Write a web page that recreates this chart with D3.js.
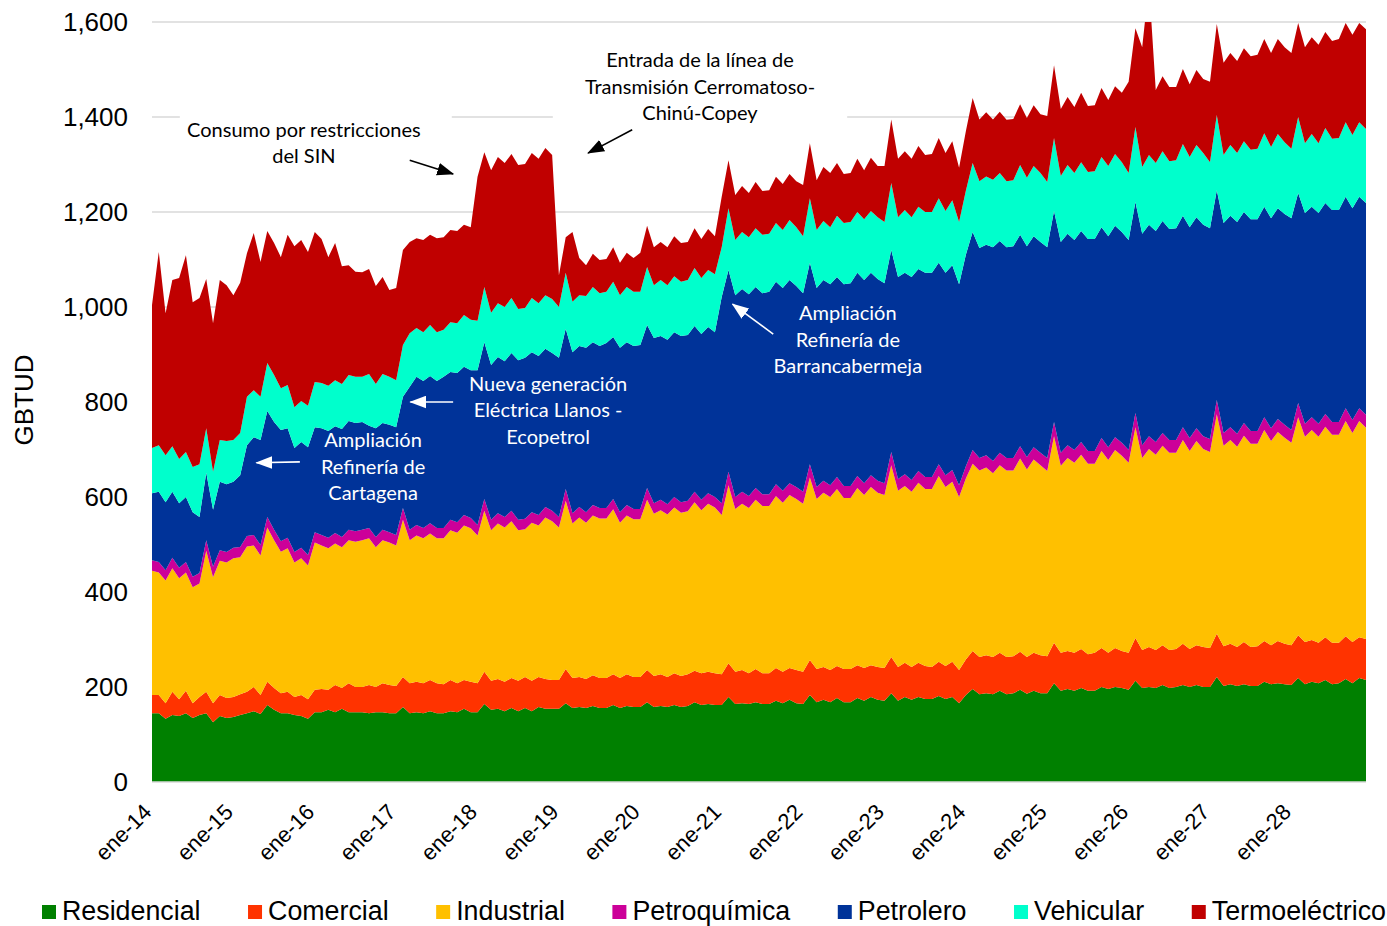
<!DOCTYPE html>
<html lang="es">
<head>
<meta charset="UTF-8">
<title>Demanda de gas natural por sector</title>
<script src="https://d3js.org/d3.v7.min.js"></script>
<style>
  body { margin: 0; background: #fff; }
  svg { display: block; font-family: "Liberation Sans", Arial, sans-serif; }
  .axis-y text { font-size: 26px; fill: #000; }
  .axis-x text { font-size: 22px; fill: #000; }
  .legend text { font-size: 26.8px; fill: #000; }
  .note { font-family: Lato, "Open Sans", sans-serif; font-size: 20px; }
</style>
</head>
<body>
<svg width="1387" height="926"></svg>
<script>
// x axis labels (one every 12 months, ene-14 ... ene-28)
const tickLabels = ["ene-14","ene-15","ene-16","ene-17","ene-18","ene-19","ene-20","ene-21",
  "ene-22","ene-23","ene-24","ene-25","ene-26","ene-27","ene-28"];
const yTicks = [0, 200, 400, 600, 800, 1000, 1200, 1400, 1600];

const keys = ["Residencial","Comercial","Industrial","Petroquímica","Petrolero","Vehicular","Termoeléctrico"];
const colors = ["#008000","#ff3300","#ffc000","#cc0099","#003399","#00ffcc","#c00000"];

// monthly values, GBTUD, ene-14 .. dic-28 (12 per row)
const residencial = [
  145,145,133,141,139,145,135,141,145,126,139,135,
  137,141,145,149,143,162,152,145,145,141,139,133,
  147,147,152,147,154,147,147,147,145,147,147,145,
  145,158,145,147,145,149,145,145,149,147,154,147,
  147,164,152,154,149,156,149,156,149,158,154,154,
  154,166,156,158,156,160,156,156,162,156,160,158,
  158,168,158,160,158,162,158,160,168,162,164,162,
  162,179,164,166,164,168,164,164,171,166,173,166,
  164,183,168,173,168,177,168,168,177,171,179,173,
  171,187,171,179,173,179,175,175,181,175,179,166,
  183,196,185,187,185,192,185,187,194,186,192,187,
  187,208,192,196,192,198,192,192,200,196,200,198,
  194,213,198,200,198,204,198,200,204,200,204,200,
  200,221,202,206,202,206,202,202,211,206,208,206,
  204,219,206,211,208,215,206,208,217,208,219,215
];
const comercial = [
  38,38,33,49,35,47,31,38,45,40,44,42,
  42,44,45,51,40,49,46,42,45,38,44,41,
  47,49,42,57,44,61,53,53,59,53,61,59,
  57,63,63,64,63,66,63,61,66,61,61,64,
  61,68,61,63,62,63,64,65,64,63,63,61,
  61,72,63,63,61,65,63,63,65,63,67,63,
  63,68,65,67,63,67,65,67,66,67,68,67,
  65,71,68,70,65,70,65,65,69,66,67,70,
  68,74,70,69,68,67,70,70,69,69,67,69,
  69,76,71,72,69,72,69,67,72,69,74,70,
  75,80,78,80,78,80,78,78,80,77,80,80,
  78,85,80,80,80,82,77,80,82,76,82,78,
  78,90,80,84,80,84,80,80,87,80,84,84,
  82,91,84,85,82,89,82,84,86,82,89,85,
  84,90,89,88,85,90,87,85,90,87,86,86
];
const industrial = [
  262,258,258,260,255,249,244,239,297,265,283,285,
  292,288,306,298,294,325,311,298,302,283,288,282,
  310,302,298,298,296,301,306,309,309,294,301,300,
  296,331,301,308,305,308,305,307,315,317,325,323,
  311,339,317,327,325,330,317,311,333,319,340,334,
  321,354,325,336,329,336,336,336,347,327,334,332,
  332,358,342,345,342,349,344,343,355,343,354,349,
  335,375,343,350,348,356,352,352,362,356,364,360,
  354,384,358,367,364,373,360,360,373,364,375,367,
  364,404,371,372,369,379,373,375,391,377,379,364,
  381,394,393,395,387,395,393,391,407,395,407,400,
  390,435,394,406,400,409,401,398,415,406,417,411,
  400,444,404,417,411,420,415,413,429,417,430,417,
  413,462,422,429,422,434,428,426,444,430,440,434,
  426,459,432,442,434,443,438,438,453,440,455,445
];
const petroquimica = [
  22,22,22,22,22,22,22,22,22,22,22,22,
  22,22,22,22,22,22,22,22,22,22,22,22,
  22,22,22,22,22,22,22,22,22,22,22,22,
  22,25,22,22,22,22,22,22,22,22,22,22,
  22,25,22,22,22,22,22,22,22,22,22,22,
  22,25,22,22,22,22,22,22,22,22,22,22,
  22,25,22,22,22,22,22,22,22,22,22,22,
  25,28,25,25,25,25,25,25,25,25,25,25,
  25,28,25,25,25,25,25,25,25,25,25,25,
  25,28,25,25,25,25,25,25,25,25,25,25,
  26,29,26,26,26,26,26,26,26,26,26,26,
  27,30,27,27,27,27,27,27,27,27,27,27,
  27,30,27,27,27,27,27,27,27,27,27,27,
  27,30,27,27,27,27,27,27,27,27,27,27,
  27,30,27,27,27,27,27,27,27,27,27,27
];
const petrolero = [
  141,148,143,139,136,137,136,118,142,120,144,143,
  139,151,191,206,221,223,227,234,231,219,223,227,
  221,225,225,225,227,229,228,227,215,229,225,226,
  227,234,301,312,309,310,309,318,311,314,312,311,
  326,330,326,329,328,332,336,339,337,335,333,332,
  335,337,339,339,346,343,341,347,341,346,343,343,
  345,343,348,345,346,347,350,349,349,349,350,347,
  434,425,425,427,425,423,423,426,426,427,428,423,
  418,424,419,423,423,421,425,427,428,428,426,425,
  421,425,425,424,427,425,430,430,424,426,431,423,
  445,459,442,443,450,446,444,446,445,444,444,444,
  444,444,444,445,442,444,446,446,444,444,445,444,
  442,444,445,445,444,446,444,446,445,444,444,445,
  444,442,442,445,446,444,446,446,443,442,444,444,
  446,442,444,443,444,444,446,446,445,446,445,446
];
const vehicular = [
  95,98,99,96,93,95,95,111,94,80,88,91,
  88,89,102,99,91,101,99,88,91,86,86,87,
  95,95,95,97,95,97,97,95,109,93,103,101,
  99,109,113,103,103,107,103,99,105,105,109,106,
  104,116,110,113,114,116,108,105,114,111,113,114,
  107,118,106,107,109,116,111,108,116,111,116,114,
  112,122,111,118,115,118,114,116,122,118,120,122,
  105,130,116,120,120,124,123,122,124,122,126,124,
  120,136,122,124,120,129,129,129,128,128,130,130,
  129,141,126,132,126,131,128,128,136,130,137,131,
  135,145,141,144,142,143,139,139,147,144,148,145,
  137,154,139,145,141,145,141,143,148,148,151,147,
  141,158,141,147,143,147,143,143,151,148,152,151,
  139,158,143,149,145,149,146,148,155,150,156,151,
  146,160,147,153,147,158,150,152,157,154,157,156
];
const termoelectrico = [
  301,407,299,350,381,414,347,350,314,313,337,328,
  305,316,302,331,284,278,278,276,316,339,339,324,
  316,303,271,289,248,231,221,220,221,206,204,183,
  194,200,192,189,194,190,198,195,194,194,190,195,
  303,284,300,308,303,303,303,303,305,304,310,303,
  67,75,147,78,65,70,70,69,73,68,72,71,
  82,87,80,80,80,84,82,80,84,82,86,80,
  106,101,95,97,93,97,92,92,97,97,97,97,
  108,116,105,114,114,111,103,103,112,103,112,108,
  118,134,123,124,123,128,120,122,127,122,124,114,
  125,137,130,135,127,129,129,129,128,126,128,124,
  139,153,141,143,139,146,139,139,145,139,143,146,
  192,208,252,360,154,158,156,154,158,153,158,156,
  169,192,194,194,194,196,197,198,198,198,200,200,
  202,198,202,204,207,202,206,208,209,211,209,210
];

const seriesValues = [residencial, comercial, industrial, petroquimica, petrolero, vehicular, termoelectrico];

// annotations: text centre and arrow in data units (month index, GBTUD)
const notes = [
  { lines: ["Consumo por restricciones", "del SIN"], m: 22.4, v: 1373, color: "#000",
    box: [4.1, 44.2], from: [38.0, 1309], to: [44.4, 1280] },
  { lines: ["Entrada de la línea de", "Transmisión Cerromatoso-", "Chinú-Copey"], m: 80.8, v: 1520, color: "#000",
    box: [59.1, 102.5], from: [70.8, 1373], to: [64.3, 1324] },
  { lines: ["Ampliación", "Refinería de", "Cartagena"], m: 32.6, v: 720, color: "#fff",
    from: [21.8, 674], to: [15.4, 672] },
  { lines: ["Nueva generación", "Eléctrica Llanos -", "Ecopetrol"], m: 58.4, v: 838, color: "#fff",
    from: [44.4, 800], to: [38.1, 800] },
  { lines: ["Ampliación", "Refinería de", "Barrancabermeja"], m: 102.6, v: 987, color: "#fff",
    from: [91.6, 943], to: [85.6, 1006] }
];

const svg = d3.select("svg");
const x = d3.scaleLinear().domain([0, 179]).range([152, 1366]);
const y = d3.scaleLinear().domain([0, 1600]).range([782, 22]);

const rows = d3.range(residencial.length).map(i => {
  const r = {};
  keys.forEach((k, j) => r[k] = seriesValues[j][i]);
  return r;
});
const stacked = d3.stack().keys(keys)(rows);

// grid
svg.append("g").selectAll("line")
  .data(yTicks.filter(d => d > 0))
  .enter().append("line")
  .attr("x1", x(0)).attr("x2", x(179))
  .attr("y1", d => y(d)).attr("y2", d => y(d))
  .attr("stroke", "#d9d9d9").attr("stroke-width", 1.3);

svg.append("defs").append("clipPath").attr("id", "plot")
  .append("rect").attr("x", x(0)).attr("y", y(1600))
  .attr("width", x(179) - x(0)).attr("height", y(0) - y(1600));

const area = d3.area()
  .x((d, i) => x(i))
  .y0(d => y(d[0]))
  .y1(d => y(d[1]));

svg.append("g").attr("clip-path", "url(#plot)")
  .selectAll("path")
  .data(stacked)
  .enter().append("path")
  .attr("d", area)
  .attr("fill", (d, i) => colors[i]);

// baseline
svg.append("line")
  .attr("x1", x(0)).attr("x2", x(179))
  .attr("y1", y(0)).attr("y2", y(0))
  .attr("stroke", "#d9d9d9").attr("stroke-width", 1.5);

// y axis
const yAxis = svg.append("g").attr("class", "axis-y")
  .attr("transform", `translate(${x(0)},0)`)
  .call(d3.axisLeft(y).tickValues(yTicks).tickFormat(d3.format(",")).tickSize(0).tickPadding(24));
yAxis.select(".domain").remove();
yAxis.selectAll("text").attr("font-family", null).attr("font-size", null);

// x axis
const xAxis = svg.append("g").attr("class", "axis-x")
  .attr("transform", `translate(0,${y(0)})`)
  .call(d3.axisBottom(x).tickValues(d3.range(0, 180, 12)).tickFormat((d, i) => tickLabels[i]).tickSize(0));
xAxis.select(".domain").remove();
xAxis.selectAll("text")
  .attr("font-family", null).attr("font-size", null)
  .attr("y", 0).attr("dy", "0.35em")
  .attr("text-anchor", "end")
  .attr("transform", "translate(-5,26) rotate(-45)");

svg.append("text")
  .attr("transform", "translate(33,400) rotate(-90)")
  .attr("text-anchor", "middle")
  .attr("font-size", 26)
  .text("GBTUD");

// arrow markers
const defs = svg.select("defs");
[["arrowBlack", "#000"], ["arrowWhite", "#fff"]].forEach(([id, c]) => {
  defs.append("marker")
    .attr("id", id)
    .attr("viewBox", "0 -6 16 12")
    .attr("refX", 15).attr("refY", 0)
    .attr("markerUnits", "userSpaceOnUse")
    .attr("markerWidth", 17).attr("markerHeight", 13)
    .attr("orient", "auto")
    .append("path").attr("d", "M0,-6 L16,0 L0,6 Z").attr("fill", c);
});

// annotations
const lineH = 26.5;
notes.forEach(n => {
  const cx = x(n.m), cy = y(n.v);
  const top = cy - 18;
  const bottom = cy + lineH * (n.lines.length - 1) + 16;
  if (n.box) {
    svg.append("rect")
      .attr("x", x(n.box[0])).attr("y", top)
      .attr("width", x(n.box[1]) - x(n.box[0])).attr("height", bottom - top)
      .attr("fill", "#fff");
  }
  const t = svg.append("text").attr("class", "note")
    .attr("text-anchor", "middle").attr("fill", n.color);
  n.lines.forEach((s, i) => {
    t.append("tspan").attr("x", cx).attr("y", cy + i * lineH).attr("dy", "0.35em").text(s);
  });
  svg.append("line")
    .attr("x1", x(n.from[0])).attr("y1", y(n.from[1]))
    .attr("x2", x(n.to[0])).attr("y2", y(n.to[1]))
    .attr("stroke", n.color).attr("stroke-width", 1.6)
    .attr("marker-end", n.color === "#000" ? "url(#arrowBlack)" : "url(#arrowWhite)");
});

// legend
const legend = svg.append("g").attr("class", "legend");
let lx = 42;
keys.forEach((k, i) => {
  legend.append("rect")
    .attr("x", lx).attr("y", 905).attr("width", 14).attr("height", 14)
    .attr("fill", colors[i]);
  const t = legend.append("text")
    .attr("x", lx + 20).attr("y", 920)
    .text(k);
  lx += 20 + t.node().getComputedTextLength() + 47.5;
});
</script>
</body>
</html>
